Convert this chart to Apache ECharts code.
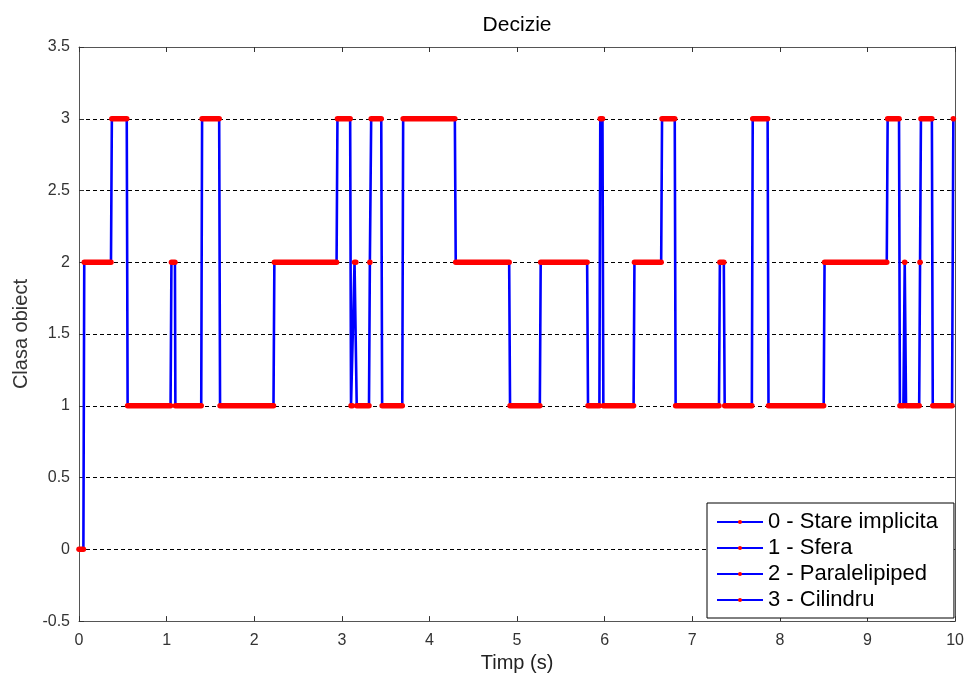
<!DOCTYPE html>
<html>
<head>
<meta charset="utf-8">
<script src="https://cdn.jsdelivr.net/npm/echarts@6/dist/echarts.min.js"></script>
<style>
html,body{margin:0;padding:0;background:#fff;overflow:hidden;}
#chart{width:100vw;height:100vh;}
</style>
</head>
<body>
<div id="chart"></div>
<script>
// Segments of constant class (sample times in seconds)
const segStart = [0.00,0.06,0.375,0.555,1.055,1.10,1.405,1.61,2.23,2.95,3.105,3.145,3.17,3.32,3.335,3.46,3.70,4.30,4.92,5.27,5.81,5.95,5.985,6.34,6.655,6.81,7.315,7.37,7.69,7.87,8.51,9.23,9.37,9.425,9.44,9.60,9.61,9.745,9.98];
const segEnd   = [0.05,0.365,0.545,1.045,1.095,1.395,1.60,2.22,2.94,3.095,3.12,3.16,3.31,3.325,3.45,3.69,4.29,4.91,5.26,5.80,5.94,5.975,6.33,6.645,6.80,7.305,7.36,7.68,7.86,8.50,9.22,9.36,9.41,9.43,9.59,9.60,9.735,9.965,9.98];
const segClass = [0,2,3,1,2,1,3,1,2,3,1,2,1,2,3,1,3,2,1,2,1,3,1,2,3,1,2,1,3,1,2,3,1,2,1,2,3,1,3];
const legendNames = ['0 - Stare implicita','1 - Sfera','2 - Paralelipiped','3 - Cilindru'];

const linePts = [];
const barData = [];
for (let i = 0; i < segClass.length; i++) {
  linePts.push([segStart[i], segClass[i]]);
  linePts.push([segEnd[i], segClass[i]]);
  barData.push([segStart[i], segEnd[i], segClass[i]]);
}

const FONT = 'Liberation Sans, Arial, sans-serif';
const chart = echarts.init(document.getElementById('chart'), null, {renderer: 'canvas'});

const axisCommon = {
  type: 'value',
  axisLine: {show: true, onZero: false, lineStyle: {color: '#555', width: 1}},
  axisTick: {show: true, inside: true, length: 5, lineStyle: {color: '#333'}},
  splitLine: {show: false}
};

const legendSeries = legendNames.map(n => ({
  name: n, type: 'line', data: [],
  symbol: 'circle',
  lineStyle: {color: '#0000ff', width: 2},
  itemStyle: {color: '#ff0000'}
}));

chart.setOption({
  animation: false,
  backgroundColor: '#fff',
  grid: {left: 79, right: 9, top: 47, bottom: 50, containLabel: false},
  legend: {
    data: legendNames,
    orient: 'vertical',
    left: 707, top: 503,
    itemWidth: 46, itemHeight: 5, itemGap: 4, itemTextGap: 6,
    padding: [8, 16, 7, 9],
    backgroundColor: '#fff',
    borderColor: '#000', borderWidth: 1, borderRadius: 0,
    textStyle: {fontFamily: FONT, fontSize: 22, color: '#000'},
    selectedMode: false
  },
  xAxis: [
    Object.assign({}, axisCommon, {
      position: 'bottom', min: 0, max: 10, interval: 1,
      name: 'Timp (s)', nameLocation: 'middle', nameGap: 24,
      nameTextStyle: {fontFamily: FONT, fontSize: 20, color: '#222'},
      axisLabel: {fontFamily: FONT, fontSize: 16, color: '#333', margin: 11}
    }),
    Object.assign({}, axisCommon, {
      position: 'top', min: 0, max: 10, interval: 1,
      name: 'Decizie', nameLocation: 'middle', nameGap: 11,
      nameTextStyle: {fontFamily: FONT, fontSize: 21, color: '#000', verticalAlign: 'bottom'},
      axisLabel: {show: false}
    })
  ],
  yAxis: [
    Object.assign({}, axisCommon, {
      position: 'left', min: -0.5, max: 3.5, interval: 0.5,
      name: 'Clasa obiect', nameLocation: 'middle', nameGap: 48,
      nameTextStyle: {fontFamily: FONT, fontSize: 20, color: '#333'},
      axisLabel: {fontFamily: FONT, fontSize: 16, color: '#333', margin: 9},
      splitLine: {show: true, lineStyle: {color: '#000', type: [4, 3], width: 1}}
    }),
    Object.assign({}, axisCommon, {
      position: 'right', min: -0.5, max: 3.5, interval: 0.5,
      axisLabel: {show: false}
    })
  ],
  series: [
    {
      type: 'line', name: 'Decizie',
      data: linePts, symbol: 'none', silent: true,
      lineStyle: {color: '#0000ff', width: 2.6},
      z: 3
    },
    {
      type: 'custom', name: 'markers', data: barData, silent: true, clip: false,
      encode: {x: [0, 1], y: 2},
      renderItem: function (params, api) {
        const p1 = api.coord([api.value(0), api.value(2)]);
        const p2 = api.coord([api.value(1), api.value(2)]);
        if (Math.abs(p2[0] - p1[0]) < 0.5) {
          return {type: 'circle', shape: {cx: p1[0], cy: p1[1], r: 2.8}, style: {fill: '#ff0000'}};
        }
        return {
          type: 'line',
          shape: {x1: p1[0], y1: p1[1], x2: p2[0], y2: p2[1]},
          style: {stroke: '#ff0000', lineWidth: 5.5, lineCap: 'round'}
        };
      },
      z: 4
    }
  ].concat(legendSeries)
});
window.addEventListener('resize', () => chart.resize());
</script>
</body>
</html>
